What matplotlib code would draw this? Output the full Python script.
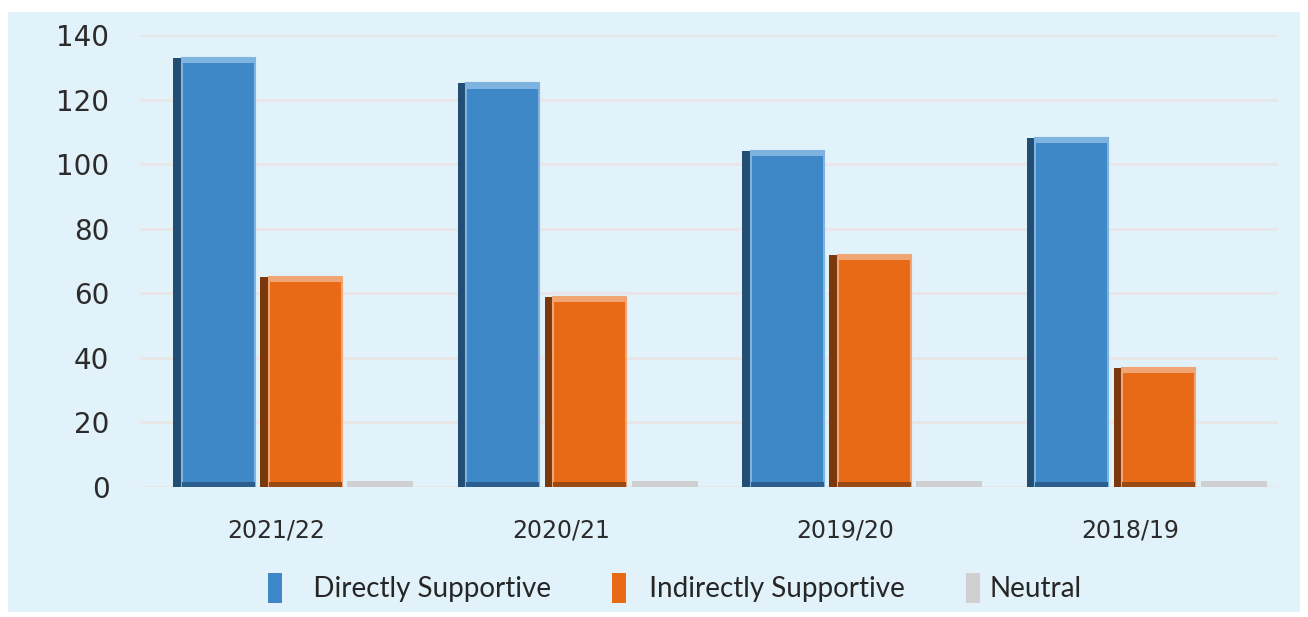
import matplotlib.pyplot as plt
from matplotlib.patches import Rectangle, Patch

# data
years = ["2021/22", "2020/21", "2019/20", "2018/19"]
directly = [133, 125, 104, 108]
indirectly = [65, 59, 72, 37]
neutral = [2, 2, 2, 2]
series_names = ["Directly Supportive", "Indirectly Supportive", "Neutral"]

fig = plt.figure(figsize=(13.08, 6.17), dpi=100)
fig.patch.set_facecolor("white")
# light blue panel behind everything
fig.patches.append(Rectangle((8 / 1308, 5 / 617), 1292 / 1308, 600 / 617,
                             transform=fig.transFigure, facecolor="#E1F2FA",
                             edgecolor="none", zorder=-5))

ax = fig.add_axes([140 / 1308, 1 - 487 / 617, 1138 / 1308, 452 / 617])
ax.set_facecolor("none")
ax.set_zorder(2)

x = list(range(len(years)))


def bar3d(xs, vals, left_off, width, main, dark, light, bottom_col):
    side = 0.03
    lefts = [i + left_off for i in xs]
    # dark left side
    ax.bar(lefts, vals, width=side, align="edge", color=dark, zorder=3)
    fl = [l + side for l in lefts]
    fw = width - side
    # front face
    ax.bar(fl, vals, width=fw, align="edge", color=main, edgecolor=light,
           linewidth=1.5, zorder=3)
    # top bevel
    ax.bar(fl, [1.6] * len(vals), bottom=[v - 1.6 for v in vals], width=fw,
           align="edge", color=light, zorder=4)
    # bottom bevel
    ax.bar(fl, [1.4] * len(vals), width=fw, align="edge", color=bottom_col,
           zorder=4)


bar3d(x, directly, -0.384, 0.288, "#3F88C8", "#234E74", "#7FB3E0", "#2C5F8E")
bar3d(x, indirectly, -0.078, 0.288, "#E86A17", "#7A380C", "#F2A574", "#9A4A14")
ax.bar([i + 0.228 for i in x], neutral, width=0.232, align="edge",
       color="#D0D0D2", zorder=3)

ax.set_xlim(-0.5, len(years) - 0.5)
ax.set_ylim(0, 140)
ax.set_yticks(range(0, 141, 20))
ax.set_yticklabels([str(v) for v in range(0, 141, 20)], fontsize=20,
                   color="#2b2b2b", family="DejaVu Sans")
ax.set_xticks([i - 0.02 for i in x])
ax.set_xticklabels(years, fontsize=17, color="#2b2b2b", family="DejaVu Sans")
ax.tick_params(axis="y", length=0, pad=22)
ax.tick_params(axis="x", length=0, pad=23)
ax.grid(axis="y", color="#E8E6E6", linewidth=2, zorder=1)
for s in ax.spines.values():
    s.set_visible(False)

handles = [Patch(facecolor="#3F88C8"), Patch(facecolor="#E86A17"),
           Patch(facecolor="#D0D0D2")]
labels = ["   " + series_names[0], "  " + series_names[1], series_names[2]]
fig.legend(handles, labels, loc="center", bbox_to_anchor=(675 / 1308, 1 - 588 / 617),
           ncol=3, frameon=False, handlelength=0.5, handleheight=1.3,
           handletextpad=0.35, columnspacing=2.2,
           prop={"family": "Lato", "size": 20})
for t in fig.legends[0].get_texts():
    t.set_color("#262626")

fig.savefig("out.png", dpi=100, facecolor=fig.get_facecolor())
